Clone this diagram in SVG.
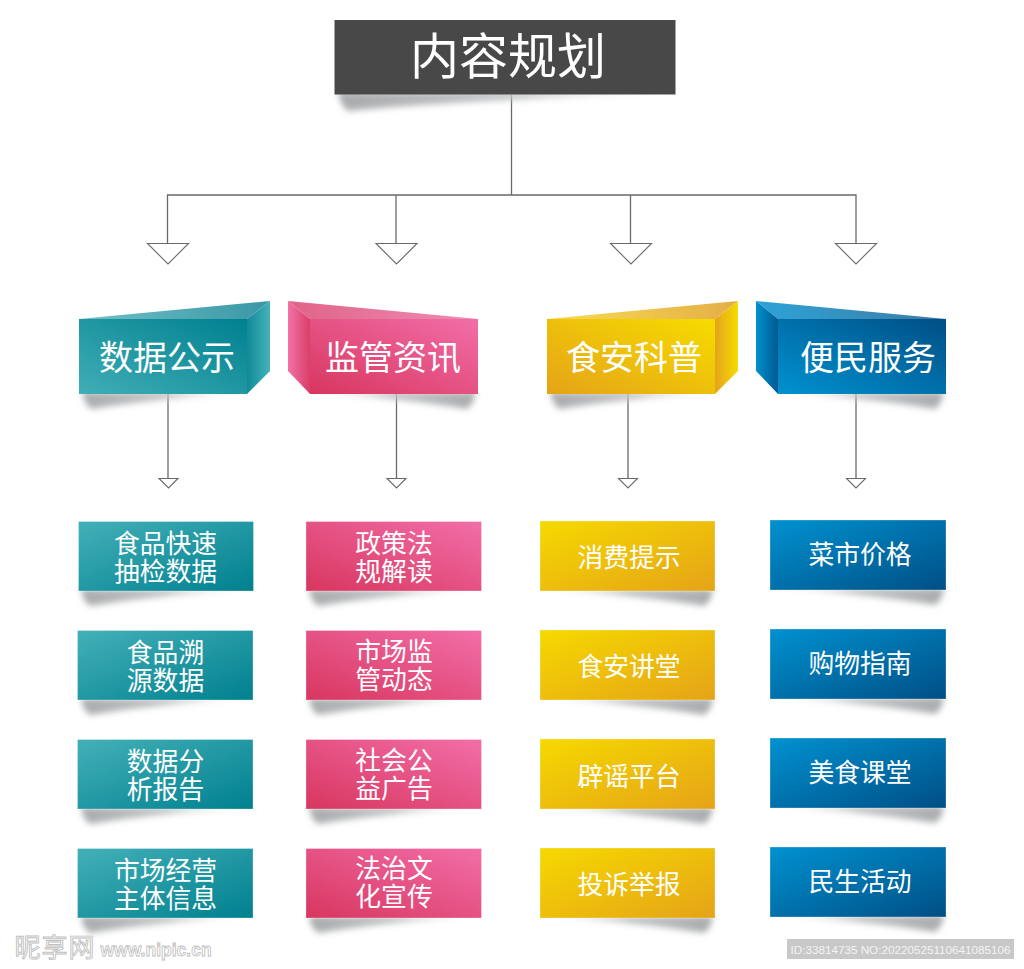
<svg xmlns="http://www.w3.org/2000/svg" xmlns:xlink="http://www.w3.org/1999/xlink" width="1024" height="969" viewBox="0 0 1024 969">
<style>
text{font-family:"Noto Sans CJK SC","Liberation Sans",sans-serif;fill:#fff;text-anchor:middle}
.s{font-size:25.8px}.h{font-size:34px}.t{font-size:49px}
.c line,.c polyline{fill:none;stroke:#6a6a6a;stroke-width:1.3}
.c polygon{fill:#fff;stroke:#6a6a6a;stroke-width:1.1}
.shl{fill:url(#shgL);filter:url(#bl)}
.shr{fill:url(#shgR);filter:url(#bl)}
rect.b{stroke:#fff;stroke-opacity:.3;stroke-width:1}
</style>
<defs>
<filter id="bl" x="-10%" y="-60%" width="120%" height="220%"><feGaussianBlur stdDeviation="3"/></filter>
<linearGradient id="shgL" x1="0" y1="0" x2="1" y2="0"><stop offset="0" stop-color="#a9abad"/><stop offset=".5" stop-color="#c2c4c5"/><stop offset="1" stop-color="#dedfe0" stop-opacity=".1"/></linearGradient>
<linearGradient id="shgR" x1="1" y1="0" x2="0" y2="0"><stop offset="0" stop-color="#a9abad"/><stop offset=".5" stop-color="#c2c4c5"/><stop offset="1" stop-color="#dedfe0" stop-opacity=".1"/></linearGradient>
<path id="shL" d="M3,0 L175,0 C120,4 60,9 12,17 Q5,13 3,0Z"/>
<path id="shR" d="M172,0 L0,0 C55,4 115,9 163,17 Q170,13 172,0Z"/>
<linearGradient id="teal" x1="0" y1="1" x2="1" y2="0"><stop offset="0" stop-color="#40aeb6"/><stop offset="1" stop-color="#00808f"/></linearGradient>
<linearGradient id="tealS" x1="0" y1="0" x2="1" y2="1"><stop offset="0" stop-color="#43b0b8"/><stop offset="1" stop-color="#00808f"/></linearGradient>
<linearGradient id="tealT" x1="0" y1="0" x2="1" y2="0"><stop offset="0" stop-color="#6fc0c6"/><stop offset="1" stop-color="#3a97a6"/></linearGradient>
<linearGradient id="tealD" x1="0" y1="0" x2="1" y2="0"><stop offset="0" stop-color="#118a98"/><stop offset="1" stop-color="#45b2b8"/></linearGradient>
<linearGradient id="pink" x1="0" y1="1" x2="1" y2="0"><stop offset="0" stop-color="#d8365f"/><stop offset="1" stop-color="#f26ea8"/></linearGradient>
<linearGradient id="pinkT" x1="0" y1="0" x2="1" y2="0"><stop offset="0" stop-color="#df6488"/><stop offset="1" stop-color="#f08cb2"/></linearGradient>
<linearGradient id="pinkD" x1="0" y1="0" x2="1" y2="0"><stop offset="0" stop-color="#f272a8"/><stop offset="1" stop-color="#d93f68"/></linearGradient>
<linearGradient id="yel" x1="0" y1="1" x2="1" y2="0"><stop offset="0" stop-color="#e5a318"/><stop offset="1" stop-color="#f6dc00"/></linearGradient>
<linearGradient id="yelS" x1="0" y1="0" x2="1" y2="1"><stop offset="0" stop-color="#f6d900"/><stop offset="1" stop-color="#e5a318"/></linearGradient>
<linearGradient id="yelT" x1="0" y1="0" x2="1" y2="0"><stop offset="0" stop-color="#f6dc50"/><stop offset="1" stop-color="#e5ae48"/></linearGradient>
<linearGradient id="yelD" x1="0" y1="0" x2="1" y2="0"><stop offset="0" stop-color="#e4a41c"/><stop offset="1" stop-color="#f6dc00"/></linearGradient>
<linearGradient id="blue" x1="0" y1="1" x2="1" y2="0"><stop offset="0" stop-color="#0092d0"/><stop offset="1" stop-color="#004f85"/></linearGradient>
<linearGradient id="blueS" x1="0" y1="0" x2="1" y2="1"><stop offset="0" stop-color="#0092d0"/><stop offset="1" stop-color="#004f85"/></linearGradient>
<linearGradient id="blueT" x1="0" y1="0" x2="1" y2="0"><stop offset="0" stop-color="#2ea3d8"/><stop offset="1" stop-color="#3c7ba5"/></linearGradient>
<linearGradient id="blueD" x1="0" y1="0" x2="1" y2="0"><stop offset="0" stop-color="#0090cc"/><stop offset="1" stop-color="#005a92"/></linearGradient>
</defs>

<g id="connectors" class="c">
<line x1="511.5" y1="95" x2="511.5" y2="195"/>
<polyline points="167.5,243 167.5,195 856,195 856,243"/>
<line x1="396" y1="195" x2="396" y2="243"/>
<line x1="630.5" y1="195" x2="630.5" y2="243"/>
<polygon points="147.5,243.5 188.5,243.5 168,264"/>
<polygon points="376,243.5 417,243.5 396.5,264"/>
<polygon points="610.5,243.5 651.5,243.5 631,264"/>
<polygon points="835.5,243.5 876.5,243.5 856,264"/>
<line x1="168" y1="394" x2="168" y2="478"/>
<line x1="396.5" y1="394" x2="396.5" y2="478"/>
<line x1="628" y1="394" x2="628" y2="478"/>
<line x1="856" y1="394" x2="856" y2="478"/>
<polygon points="159,478.5 178,478.5 168.5,488"/>
<polygon points="387,478.5 406,478.5 396.5,488"/>
<polygon points="618.5,478.5 637.5,478.5 628,488"/>
<polygon points="846.5,478.5 865.5,478.5 856,488"/>
</g>

<g id="root">
<path class="shl" d="M338,92 L676,92 C580,97 440,102 348,111 Q341,107 338,92Z"/>
<rect x="334.5" y="20" width="341" height="74.5" fill="#484848"/>
<text class="t" x="508" y="73.5">内容规划</text>
</g>

<g id="h1">
<path class="shl" d="M82,392 L247,392 C190,397 140,401 91,409 Q85,405 82,392Z"/>
<polygon points="79,319 270,301 247,319" fill="url(#tealT)"/>
<polygon points="247,319 270,301 270,371 247,394" fill="url(#tealD)"/>
<rect x="79" y="319" width="168" height="75" fill="url(#teal)"/>
<text class="h" x="167" y="370">数据公示</text>
</g>
<g id="h2">
<path class="shr" d="M310,392 L476,392 Q473,405 467,409 C420,401 370,397 310,392Z"/>
<polygon points="288,301 478,319 310,319" fill="url(#pinkT)"/>
<polygon points="288,301 310,319 310,394 288,371" fill="url(#pinkD)"/>
<rect x="310" y="319" width="168" height="75" fill="url(#pink)"/>
<text class="h" x="393" y="370">监管资讯</text>
</g>
<g id="h3">
<path class="shl" d="M550,392 L715,392 C658,397 608,401 559,409 Q553,405 550,392Z"/>
<polygon points="547,319 738,301 715,319" fill="url(#yelT)"/>
<polygon points="715,319 738,301 738,371 715,394" fill="url(#yelD)"/>
<rect x="547" y="319" width="168" height="75" fill="url(#yel)"/>
<text class="h" x="634" y="370">食安科普</text>
</g>
<g id="h4">
<path class="shr" d="M778,392 L944,392 Q941,405 935,409 C888,401 838,397 778,392Z"/>
<polygon points="756,301 946,319 778,319" fill="url(#blueT)"/>
<polygon points="756,301 778,319 778,394 756,371" fill="url(#blueD)"/>
<rect x="778" y="319" width="168" height="75" fill="url(#blue)"/>
<text class="h" x="868" y="370">便民服务</text>
</g>

<g id="n11"><use class="shl" xlink:href="#shL" x="78" y="589"/><rect class="b" x="78.5" y="521.5" width="175" height="69.5" fill="url(#tealS)"/><text class="s" x="165.5" y="552.5">食品快速<tspan x="165.5" dy="28">抽检数据</tspan></text></g>
<g id="n12"><use class="shl" xlink:href="#shL" x="78" y="698"/><rect class="b" x="77.5" y="630.5" width="175.5" height="69.5" fill="url(#tealS)"/><text class="s" x="165.5" y="661.5">食品溯<tspan x="165.5" dy="28">源数据</tspan></text></g>
<g id="n13"><use class="shl" xlink:href="#shL" x="78" y="807"/><rect class="b" x="77.5" y="739.5" width="175.5" height="69.5" fill="url(#tealS)"/><text class="s" x="165.5" y="770.5">数据分<tspan x="165.5" dy="28">析报告</tspan></text></g>
<g id="n14"><use class="shl" xlink:href="#shL" x="78" y="916"/><rect class="b" x="77.5" y="848.5" width="175.5" height="69.5" fill="url(#tealS)"/><text class="s" x="165.5" y="879.5">市场经营<tspan x="165.5" dy="28">主体信息</tspan></text></g>

<g id="n21"><use class="shl" xlink:href="#shL" x="306" y="589"/><rect class="b" x="306" y="521.5" width="175.5" height="69.5" fill="url(#pink)"/><text class="s" x="394" y="552.5">政策法<tspan x="394" dy="28">规解读</tspan></text></g>
<g id="n22"><use class="shl" xlink:href="#shL" x="306" y="698"/><rect class="b" x="306" y="630.5" width="175.5" height="69.5" fill="url(#pink)"/><text class="s" x="394" y="660.5">市场监<tspan x="394" dy="28">管动态</tspan></text></g>
<g id="n23"><use class="shl" xlink:href="#shL" x="306" y="807"/><rect class="b" x="306" y="739.5" width="175.5" height="69.5" fill="url(#pink)"/><text class="s" x="394" y="769.5">社会公<tspan x="394" dy="28">益广告</tspan></text></g>
<g id="n24"><use class="shl" xlink:href="#shL" x="306" y="916"/><rect class="b" x="306" y="848.5" width="175.5" height="69.5" fill="url(#pink)"/><text class="s" x="394" y="877.5">法治文<tspan x="394" dy="28">化宣传</tspan></text></g>

<g id="n31"><use class="shr" xlink:href="#shR" x="541" y="589"/><rect class="b" x="540" y="521" width="175" height="70" fill="url(#yelS)"/><text class="s" x="629" y="566.5">消费提示</text></g>
<g id="n32"><use class="shr" xlink:href="#shR" x="541" y="698"/><rect class="b" x="540" y="630" width="175" height="70" fill="url(#yelS)"/><text class="s" x="629" y="675.5">食安讲堂</text></g>
<g id="n33"><use class="shr" xlink:href="#shR" x="541" y="807"/><rect class="b" x="540" y="739" width="175" height="70" fill="url(#yelS)"/><text class="s" x="629" y="785.5">辟谣平台</text></g>
<g id="n34"><use class="shr" xlink:href="#shR" x="541" y="916"/><rect class="b" x="540" y="848" width="175" height="70" fill="url(#yelS)"/><text class="s" x="629" y="893.5">投诉举报</text></g>

<g id="n41"><use class="shr" xlink:href="#shR" x="772" y="588"/><rect class="b" x="770" y="520" width="176" height="70" fill="url(#blueS)"/><text class="s" x="860" y="563.5">菜市价格</text></g>
<g id="n42"><use class="shr" xlink:href="#shR" x="772" y="697"/><rect class="b" x="770" y="629" width="176" height="70" fill="url(#blueS)"/><text class="s" x="860" y="672.5">购物指南</text></g>
<g id="n43"><use class="shr" xlink:href="#shR" x="772" y="806"/><rect class="b" x="770" y="738" width="176" height="70" fill="url(#blueS)"/><text class="s" x="860" y="781.5">美食课堂</text></g>
<g id="n44"><use class="shr" xlink:href="#shR" x="772" y="915"/><rect class="b" x="770" y="847" width="176" height="70" fill="url(#blueS)"/><text class="s" x="860" y="890.5">民生活动</text></g>

<g id="watermark">
<text x="55" y="957" style="font-size:26px;letter-spacing:1px;fill:#fff;stroke:#c0c0c0;stroke-width:.9">昵享网</text>
<text x="156" y="956" style="font-size:17.5px;font-weight:700;font-family:'Liberation Sans',sans-serif;fill:#fff;stroke:#bdbdbd;stroke-width:.8">www.nipic.cn</text>
</g>
<g id="idbar">
<rect x="787" y="939" width="227" height="20" fill="#c8c8c8"/>
<text x="900.5" y="953.5" style="font-size:11.7px;font-family:'Liberation Sans',sans-serif;fill:#f4f4f4">ID:33814735 NO:20220525110641085106</text>
</g>
</svg>
